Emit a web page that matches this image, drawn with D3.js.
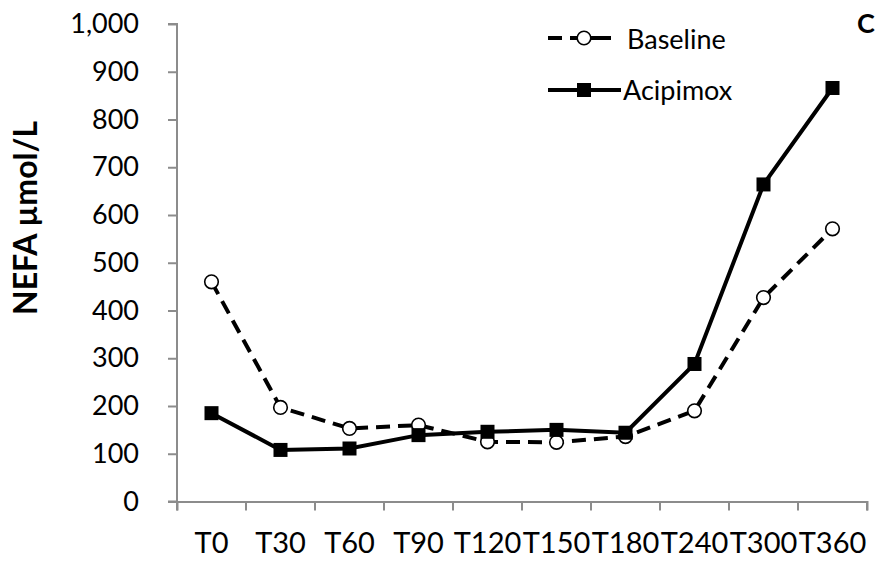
<!DOCTYPE html>
<html>
<head>
<meta charset="UTF-8">
<title>NEFA</title>
<script src="https://d3js.org/d3.v7.min.js"></script>
<style>
body { margin: 0; background: #fff; }
text { font-family: Lato, "Open Sans", sans-serif; fill: #000; }
</style>
</head>
<body>
<figure class=chart style="margin:0"></figure>
<script type="text/javascript">

/* Data */
var timePoints = ['T0', 'T30', 'T60', 'T90', 'T120', 'T150', 'T180', 'T240', 'T300', 'T360'];
var baseline = [460, 197, 153, 160, 125, 124, 136, 190, 427, 571];
var acipimox = [185, 108, 111, 139, 146, 150, 144, 288, 664, 866];
var yTicks = [0, 100, 200, 300, 400, 500, 600, 700, 800, 900, 1000];

/* Global variables */
var W = 888, H = 561
var x = d3.scaleBand().domain(timePoints).range([177, 867])
var y = d3.scaleLinear().domain([0, 1000]).range([501.5, 24])
var axisColor = '#8c8c8c'

var svg = d3.select('figure').append('svg')
	.attr('width', W)
	.attr('height', H)

/* Axes */
var yAxis = svg.append('g')
	.attr('transform', 'translate(177,0)')
	.call(d3.axisLeft(y).tickValues(yTicks).tickSize(9).tickPadding(29).tickFormat(d3.format(',')))
var xAxis = svg.append('g')
	.attr('transform', 'translate(0,501.5)')
	.call(d3.axisBottom(x).tickSize(9).tickPadding(21).tickSizeOuter(9))

// Excel-like: ticks at category boundaries
xAxis.selectAll('.tick line').remove()
xAxis.selectAll('.boundary')
	.data(d3.range(timePoints.length + 1))
	.enter().append('line')
	.attr('x1', function(i) { return x.range()[0] + i * x.step(); })
	.attr('x2', function(i) { return x.range()[0] + i * x.step(); })
	.attr('y1', 0).attr('y2', 9)
	.attr('stroke', axisColor).attr('stroke-width', 2)

svg.selectAll('.domain, .tick line').attr('stroke', axisColor).attr('stroke-width', 2)
yAxis.select('.domain').attr('d', 'M-9,' + y(1000) + 'H0V' + y(0) + 'H-9')
yAxis.selectAll('.tick text').style('font-size', '27px')
xAxis.selectAll('.tick text').style('font-size', '29px').attr('y', 0).attr('dy', 51)

svg.append('text')
	.attr('transform', 'translate(37,218) rotate(-90)')
	.attr('text-anchor', 'middle')
	.style('font-size', '32px')
	.style('font-weight', 'bold')
	.text('NEFA µmol/L')

/* Lines */
var line = d3.line()
	.x(function(d, i) { return x(timePoints[i]) + x.bandwidth() / 2; })
	.y(function(d) { return y(d); })

svg.append('path').datum(baseline)
	.attr('d', line).attr('fill', 'none').attr('stroke', '#000')
	.attr('stroke-width', 4).attr('stroke-dasharray', '14,8')
svg.selectAll('.bpt').data(baseline).enter().append('circle')
	.attr('cx', function(d, i) { return x(timePoints[i]) + x.bandwidth() / 2; })
	.attr('cy', function(d) { return y(d); })
	.attr('r', 6.8).attr('fill', '#fff').attr('stroke', '#000').attr('stroke-width', 1.6)

svg.append('path').datum(acipimox)
	.attr('d', line).attr('fill', 'none').attr('stroke', '#000').attr('stroke-width', 4)
svg.selectAll('.apt').data(acipimox).enter().append('rect')
	.attr('x', function(d, i) { return x(timePoints[i]) + x.bandwidth() / 2 - 7; })
	.attr('y', function(d) { return y(d) - 7; })
	.attr('width', 14).attr('height', 14).attr('fill', '#000')

/* Legend */
var lg = svg.append('g')
lg.append('line').attr('x1', 548).attr('x2', 562).attr('y1', 38).attr('y2', 38)
	.attr('stroke', '#000').attr('stroke-width', 4)
lg.append('line').attr('x1', 570).attr('x2', 611).attr('y1', 38).attr('y2', 38)
	.attr('stroke', '#000').attr('stroke-width', 4)
lg.append('circle').attr('cx', 584).attr('cy', 38).attr('r', 6.8)
	.attr('fill', '#fff').attr('stroke', '#000').attr('stroke-width', 1.6)
lg.append('text').attr('x', 627).attr('y', 49).style('font-size', '27px').text('Baseline')
lg.append('line').attr('x1', 548).attr('x2', 621).attr('y1', 90).attr('y2', 90)
	.attr('stroke', '#000').attr('stroke-width', 4)
lg.append('rect').attr('x', 577).attr('y', 83).attr('width', 14).attr('height', 14).attr('fill', '#000')
lg.append('text').attr('x', 623).attr('y', 100).style('font-size', '27px').text('Acipimox')

svg.append('text').attr('x', 857).attr('y', 33)
	.style('font-size', '27px').style('font-weight', 'bold').text('C')

</script>
</body>
</html>
